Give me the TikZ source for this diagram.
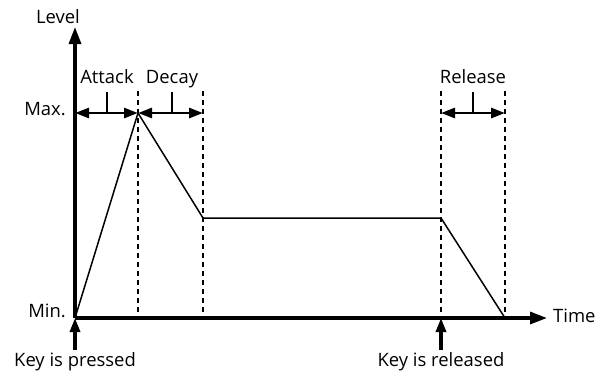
\documentclass[tikz,border=0pt]{standalone}
\usepackage{fontspec}
\setmainfont{Open Sans}
\usetikzlibrary{arrows.meta}
\begin{document}
\begin{tikzpicture}[x=1bp,y=-1bp,
  axis/.style={line width=3.2bp,-{Triangle[length=17bp,width=12bp]}},
  keyarrow/.style={line width=3.2bp,-{Triangle[length=14bp,width=10bp]}},
  env/.style={line width=1.5bp},
  guide/.style={line width=1.1bp,dash pattern=on 5bp off 4bp},
  span/.style={line width=2.8bp,{Triangle[length=14bp,width=10bp]}-{Triangle[length=14bp,width=10bp]}},
  tick/.style={line width=1.3bp},
  lbl/.style={font=\fontsize{18.5}{21}\selectfont,inner sep=0bp}]
\useasboundingbox (0,0) rectangle (597,374);
% coordinates
\coordinate (O) at (75,318);
\coordinate (ytop) at (75,27);
\coordinate (xend) at (547,318);
\coordinate (peak) at (138,113);
\coordinate (ds) at (203,218);
\coordinate (rs) at (441,218);
\coordinate (re) at (505,318);
% guides
\draw[guide] (138,91) coordinate (g1t) -- (138,318) coordinate (g1b);
\draw[guide] (203,91) coordinate (g2t) -- (203,318) coordinate (g2b);
\draw[guide] (441,91) coordinate (g3t) -- (441,318) coordinate (g3b);
\draw[guide] (505,91) coordinate (g4t) -- (505,318) coordinate (g4b);
% envelope
\draw[env] (O) -- (peak) -- (ds) -- (rs) -- (re);
% axes
\draw[axis] (O) -- (ytop);
\draw[axis] (O) -- (xend);
% spans
\coordinate (a0) at (75,113);
\coordinate (a1) at (138,113);
\coordinate (d1) at (203,113);
\coordinate (r0) at (441,113);
\coordinate (r1) at (505,113);
\draw[span] (a0) -- (a1);
\draw[span] (a1) -- (d1);
\draw[span] (r0) -- (r1);
\coordinate (ta) at (107,113); \coordinate (tat) at (107,92);
\coordinate (td) at (172,113); \coordinate (tdt) at (172,92);
\coordinate (tr) at (473,113); \coordinate (trt) at (473,92);
\draw[tick] (ta) -- (tat);
\draw[tick] (td) -- (tdt);
\draw[tick] (tr) -- (trt);
% key arrows
\coordinate (kp) at (75,350);
\coordinate (kr) at (441,350);
\draw[keyarrow] (kp) -- (75,318);
\draw[keyarrow] (kr) -- (441,318);
% labels
\node[lbl,anchor=base] (level) at (58,23) {Level};
\node[lbl,anchor=base east] (max) at (66,115) {Max.};
\node[lbl,anchor=base east] (min) at (66,317) {Min.};
\node[lbl,anchor=base west] (time) at (553,322) {Time};
\node[lbl,anchor=base] (attack) at (107,83) {Attack};
\node[lbl,anchor=base] (decay) at (172,83) {Decay};
\node[lbl,anchor=base] (release) at (473,83) {Release};
\node[lbl,anchor=base] (kpl) at (75,366) {Key is pressed};
\node[lbl,anchor=base] (krl) at (441,366) {Key is released};
\end{tikzpicture}
\end{document}
